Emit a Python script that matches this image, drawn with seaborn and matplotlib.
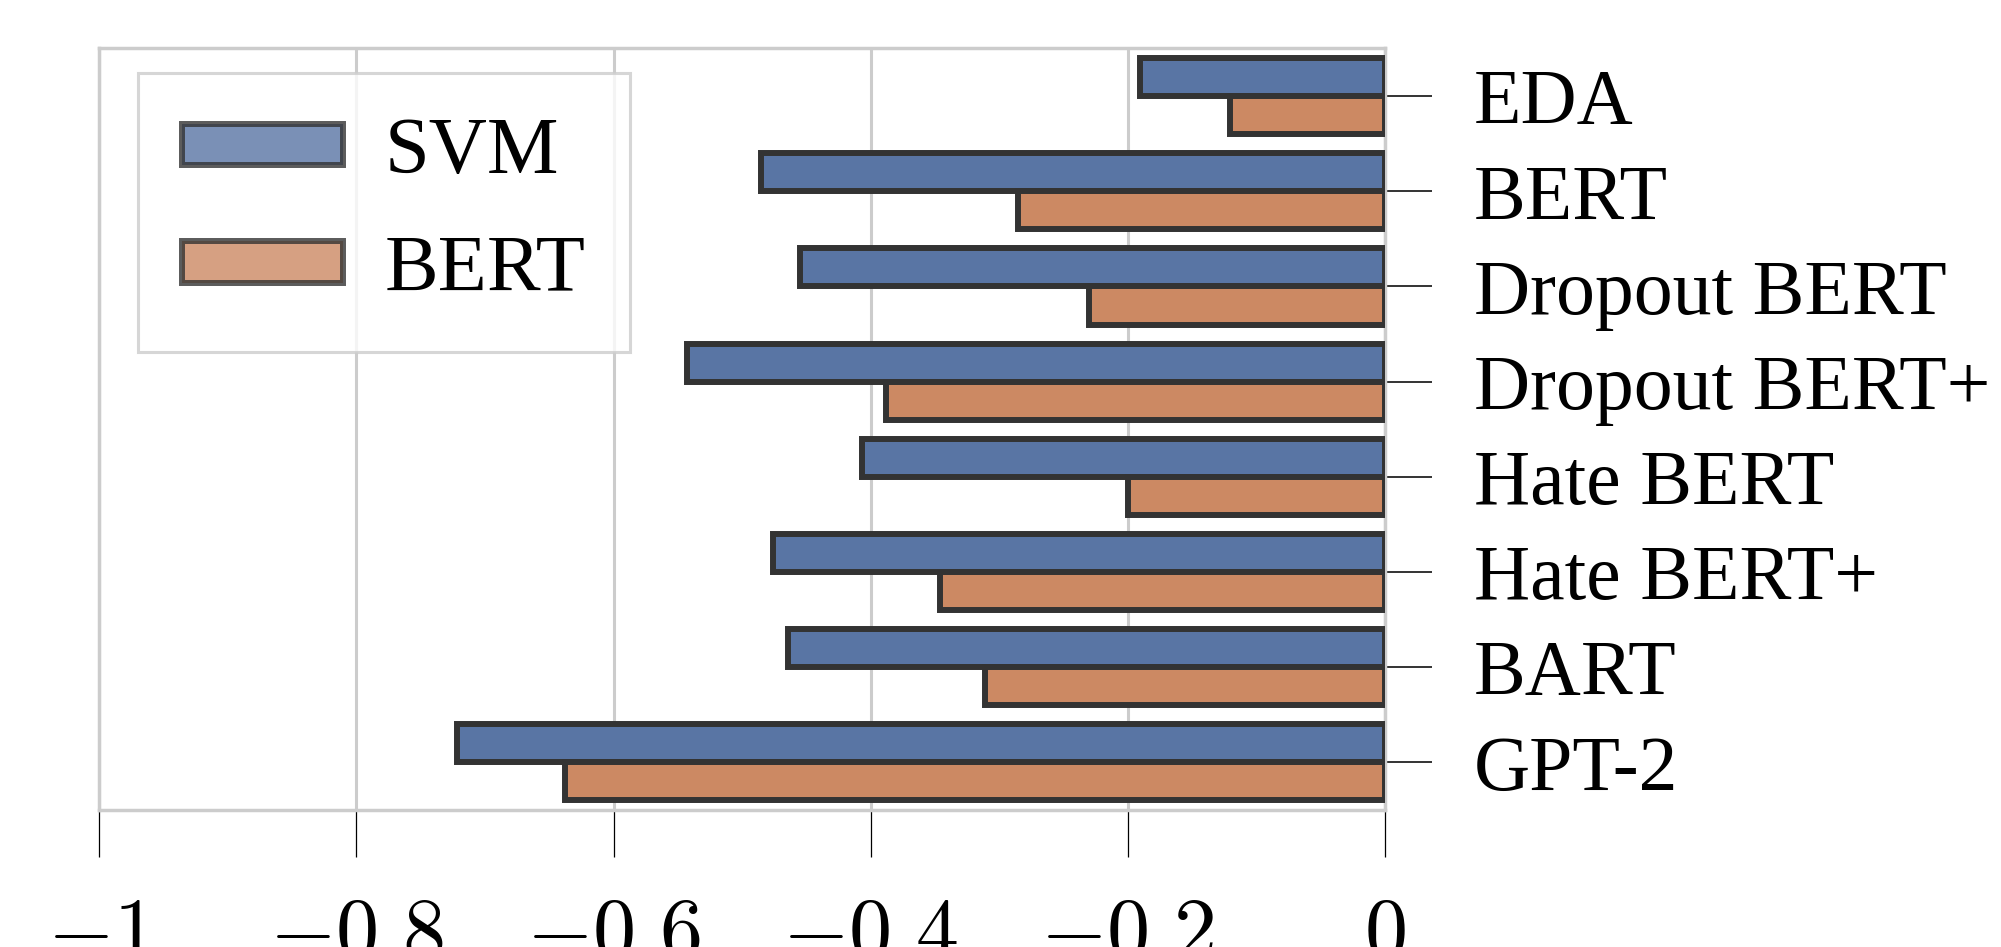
import matplotlib
matplotlib.use("Agg")
import matplotlib.pyplot as plt
import pandas as pd
import seaborn as sns

# ---------------------------------------------------------------------------
# Data
# ---------------------------------------------------------------------------
methods = ["EDA", "BERT", "Dropout BERT", "Dropout BERT+",
           "Hate BERT", "Hate BERT+", "BART", "GPT-2"]
svm_scores = [-0.19, -0.485, -0.455, -0.543, -0.407, -0.476, -0.464, -0.722]
bert_scores = [-0.12, -0.285, -0.23, -0.388, -0.20, -0.346, -0.311, -0.638]
classifiers = ["SVM", "BERT"]
x_ticks = [-1, -0.8, -0.6, -0.4, -0.2, 0]
x_tick_labels = ["$-1$", "$-0.8$", "$-0.6$", "$-0.4$", "$-0.2$", "$0$"]

df = pd.DataFrame({
    "method": methods * 2,
    "score": svm_scores + bert_scores,
    "classifier": ["SVM"] * len(methods) + ["BERT"] * len(methods),
})

sns.set_theme(style="whitegrid")
plt.rcParams["font.family"] = ["Liberation Serif", "DejaVu Serif"]
plt.rcParams["mathtext.fontset"] = "cm"
plt.rcParams["text.color"] = "black"
plt.rcParams["xtick.labelcolor"] = "black"
plt.rcParams["ytick.labelcolor"] = "black"

DPI = 100
fig = plt.figure(figsize=(2001 / DPI, 947 / DPI), dpi=DPI)
ax = fig.add_axes([0.0497, 0.1447, 0.6423, 0.8041])

sns.barplot(
    data=df, x="score", y="method", hue="classifier",
    order=methods, hue_order=classifiers, orient="h",
    edgecolor="#333333", linewidth=4.3, ax=ax, zorder=3,
)

ax.set_xlim(-1, 0)
ax.set_xticks(x_ticks)
ax.set_xticklabels(x_tick_labels)
ax.set_xlabel("")
ax.set_ylabel("")

ax.grid(axis="x", color="#cccccc", linewidth=2.2, zorder=0)
ax.grid(axis="y", visible=False)
ax.set_axisbelow(True)
for sp in ax.spines.values():
    sp.set_color("#cccccc")
    sp.set_linewidth(2.5)

ax.yaxis.tick_right()
ax.tick_params(axis="y", which="both", right=True, left=False, length=34,
               width=1.4, color="#333333", pad=30, labelsize=56)
ax.tick_params(axis="x", bottom=True, length=34, width=0.9, color="black",
               pad=29, labelsize=62)

leg = ax.legend(
    loc="upper left", bbox_to_anchor=(0.0298, 0.968), borderaxespad=0,
    fontsize=58, handlelength=2.0, handleheight=0.42, handletextpad=0.52,
    labelspacing=0.55, borderpad=0.55, fancybox=False, framealpha=0.8,
    edgecolor="#cccccc", title=None,
)
leg.get_frame().set_linewidth(2.2)
for h in leg.legend_handles:
    h.set_alpha(0.8)

fig.savefig("out.png", dpi=DPI)
